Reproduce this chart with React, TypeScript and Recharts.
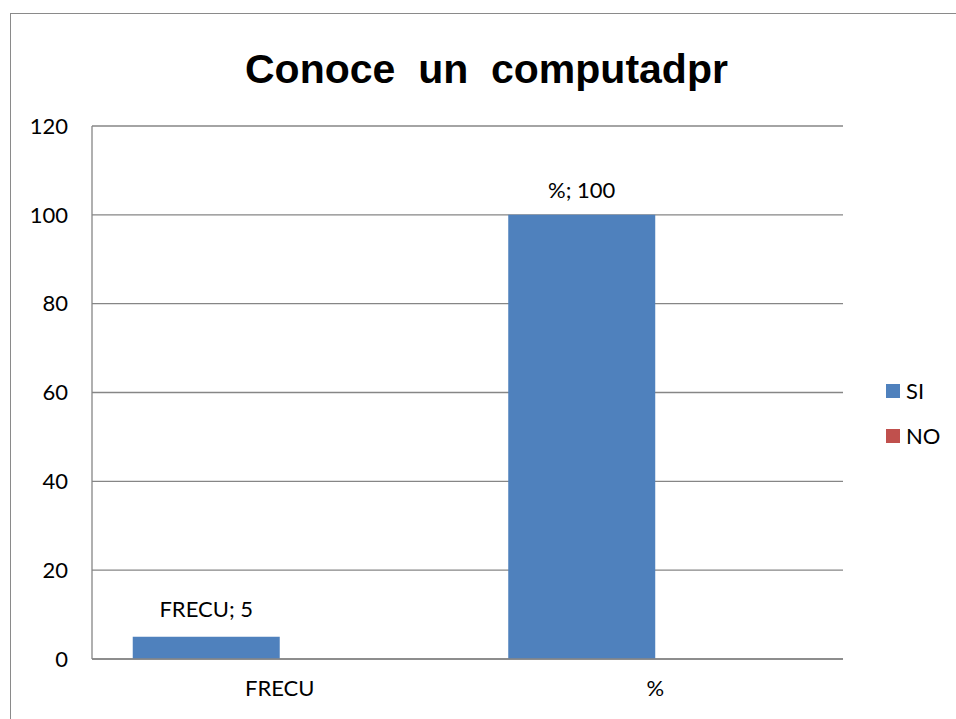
import { BarChart, Bar, XAxis, YAxis, CartesianGrid, LabelList } from "recharts";

const categories = ["FRECU", "%"];
const siValues = [5, 100];
const noValues = [0, 0];
const yTicks = [0, 20, 40, 60, 80, 100, 120];

const SI_COLOR = "#4F81BD";
const NO_COLOR = "#C0504D";
const GRID = "#868686";
const FONT = "Lato, 'Open Sans', sans-serif";

const data = categories.map((c, i) => ({ name: c, SI: siValues[i], NO: noValues[i] }));

function LegendBox() {
  const items = [
    { label: "SI", color: SI_COLOR },
    { label: "NO", color: NO_COLOR },
  ];
  return (
    <div style={{ position: "absolute", left: 875, top: 354, fontFamily: FONT, fontSize: 22 }}>
      {items.map((it) => (
        <div key={it.label} style={{ display: "flex", alignItems: "center", height: 45 }}>
          <span style={{ width: 14, height: 14, background: it.color, marginRight: 6, display: "inline-block" }} />
          <span style={{ color: "#000" }}>{it.label}</span>
        </div>
      ))}
    </div>
  );
}

export default function App() {
  return (
    <div
      style={{
        position: "absolute",
        left: 10,
        top: 13,
        width: 960,
        height: 720,
        border: "1.5px solid #8a8a8a",
        background: "#fff",
        fontFamily: FONT,
      }}
    >
      <div
        style={{
          position: "absolute",
          left: 234,
          top: 32,
          fontFamily: "'Liberation Sans', Arial, sans-serif",
          fontWeight: "bold",
          fontSize: 41,
          whiteSpace: "pre",
        }}
      >
        {"Conoce  un  computadpr"}
      </div>
      <div style={{ position: "absolute", left: 0, top: 0 }}>
        <BarChart
          width={940}
          height={700}
          data={data}
          margin={{ top: 112, right: 108, bottom: 0, left: 0 }}
          barCategoryGap="10.85%"
          barGap={0}
        >
          <CartesianGrid vertical={false} stroke={GRID} strokeWidth={1.3} />
          <XAxis
            dataKey="name"
            axisLine={{ stroke: GRID, strokeWidth: 1.5 }}
            tickLine={false}
            tickMargin={15}
            height={55}
            tick={{ fontSize: 22, fill: "#000", fontFamily: FONT }}
          />
          <YAxis
            width={81}
            domain={[0, 120]}
            ticks={yTicks}
            interval={0}
            axisLine={{ stroke: GRID, strokeWidth: 1.3 }}
            tickLine={false}
            tickMargin={18}
            tick={{ fontSize: 22, fill: "#000", fontFamily: FONT }}
          />
          <Bar dataKey="SI" fill={SI_COLOR} isAnimationActive={false}>
            <LabelList
              dataKey="SI"
              content={(p: any) => {
                const { x, y, width, index, value } = p;
                return (
                  <text
                    x={x + width / 2}
                    y={y - (index === 0 ? 20 : 17)}
                    textAnchor="middle"
                    fontSize={22}
                    fontFamily={FONT}
                    fill="#000"
                  >
                    {`${categories[index]}; ${value}`}
                  </text>
                );
              }}
            />
          </Bar>
          <Bar dataKey="NO" fill={NO_COLOR} isAnimationActive={false} />
        </BarChart>
      </div>
      <LegendBox />
    </div>
  );
}
